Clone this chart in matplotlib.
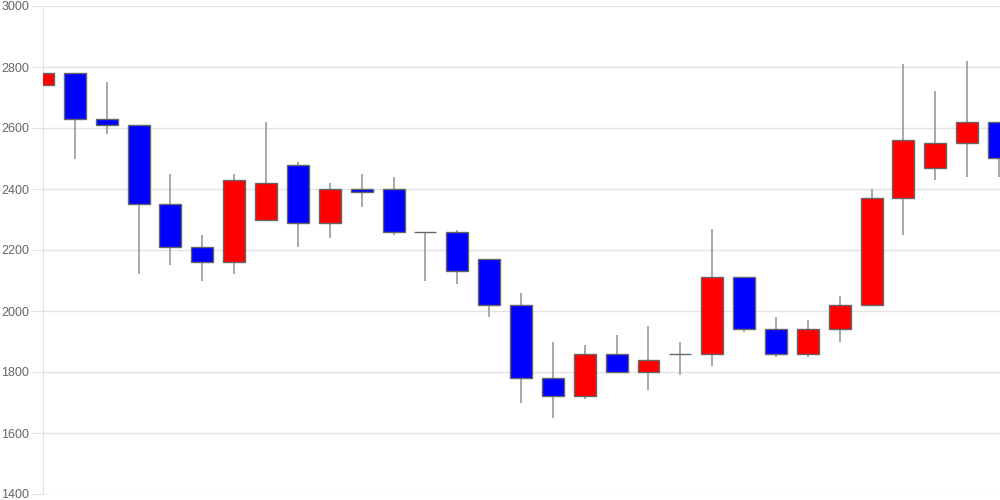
import matplotlib
matplotlib.use("Agg")
import matplotlib.pyplot as plt
import numpy as np

plt.rcParams['font.family'] = ['Liberation Sans', 'DejaVu Sans']

# daily candles, oldest first
opens = [2740, 2780, 2630, 2610, 2350, 2210, 2160, 2300, 2480, 2290, 2400,
         2400, 2260, 2260, 2170, 2020, 1780, 1720, 1860, 1800, 1860, 1860,
         2110, 1940, 1860, 1940, 2020, 2370, 2470, 2550, 2620]
closes = [2780, 2630, 2610, 2350, 2210, 2160, 2430, 2420, 2290, 2400, 2390,
          2260, 2260, 2130, 2020, 1780, 1720, 1860, 1800, 1840, 1860, 2110,
          1940, 1860, 1940, 2020, 2370, 2560, 2550, 2620, 2500]
highs = [2870, 2780, 2750, 2610, 2450, 2250, 2450, 2620, 2490, 2420, 2450,
         2440, 2260, 2265, 2170, 2060, 1900, 1890, 1920, 1950, 1900, 2270,
         2110, 1980, 1970, 2050, 2400, 2810, 2720, 2820, 2620]
lows = [2690, 2500, 2580, 2120, 2150, 2100, 2120, 2300, 2210, 2240, 2340,
        2250, 2100, 2090, 1980, 1700, 1650, 1710, 1800, 1740, 1790, 1820,
        1930, 1850, 1850, 1900, 2020, 2250, 2430, 2440, 2440]
y_ticks = [1400, 1600, 1800, 2000, 2200, 2400, 2600, 2800, 3000]

o = np.array(opens)
c = np.array(closes)
x = np.arange(len(opens))
colors = np.where(c > o, '#ff0000', np.where(c < o, '#0000ff', '#555555'))

fig = plt.figure(figsize=(10, 5), dpi=100)
ax = fig.add_axes([0.043, 0.012, 0.957, 0.976])

ax.vlines(x, lows, highs, color='#999999', linewidth=1.2, zorder=2)
ax.bar(x, c - o, bottom=o, width=0.69, color=colors,
       edgecolor='#666666', linewidth=1.0, zorder=3)

ax.set_xlim(0, 30.03)
ax.set_ylim(1400, 3000)
ax.set_yticks(y_ticks)
ax.set_xticks([])
ax.grid(axis='y', color='#e3e3e3', linewidth=1)
ax.set_axisbelow(True)
for s in ['top', 'right', 'bottom']:
    ax.spines[s].set_visible(False)
ax.spines['left'].set_color('#e3e3e3')
ax.tick_params(axis='y', length=9, color='#e3e3e3', labelcolor='#666666',
               labelsize=9, pad=1)

fig.savefig('out.png')
